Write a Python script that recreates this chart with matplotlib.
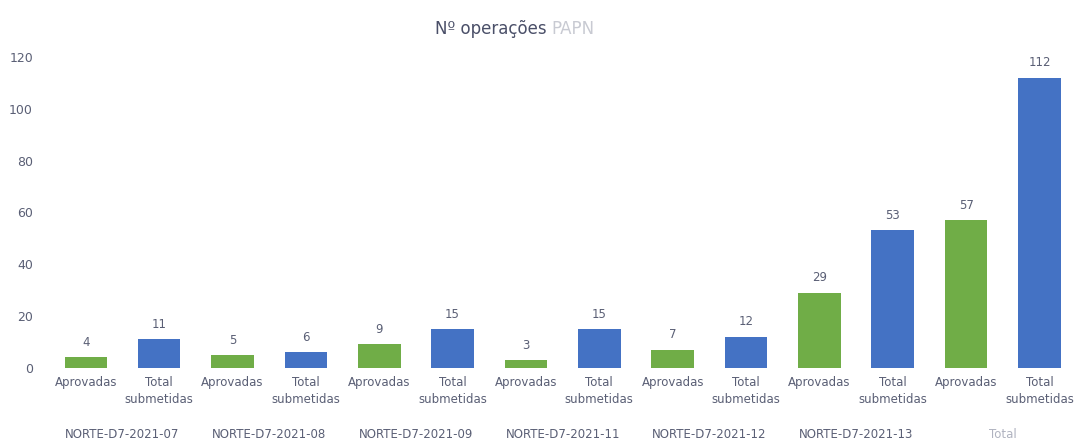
import matplotlib.pyplot as plt
import matplotlib.transforms as mtransforms
import numpy as np

# dados
grupos = ["NORTE-D7-2021-07", "NORTE-D7-2021-08", "NORTE-D7-2021-09",
          "NORTE-D7-2021-11", "NORTE-D7-2021-12", "NORTE-D7-2021-13", "Total"]
aprovadas = [4, 5, 9, 3, 7, 29, 57]
total_submetidas = [11, 6, 15, 15, 12, 53, 112]
rotulos = ["Aprovadas", "Total\nsubmetidas"]

verde = '#70AD47'
azul = '#4472C4'
cinza = '#5a5f75'

fig = plt.figure(figsize=(10.82, 4.41), dpi=100)
ax = fig.add_axes([0.042, 0.166, 0.956, 0.705])

n = len(grupos)
x_apr = np.arange(n) * 2
x_tot = x_apr + 1
largura = 0.58

b1 = ax.bar(x_apr, aprovadas, largura, color=verde)
b2 = ax.bar(x_tot, total_submetidas, largura, color=azul)

# valores por cima das barras
for barras in (b1, b2):
    for r in barras:
        h = r.get_height()
        ax.annotate(f'{h:.0f}', xy=(r.get_x() + r.get_width() / 2, h),
                    xytext=(0, 6), textcoords='offset points',
                    ha='center', va='bottom', fontsize=8.5, color=cinza)

ax.set_xlim(-0.55, 2 * n - 0.45)
ax.set_ylim(0, 120)
ax.set_yticks(np.arange(0, 121, 20))
ax.tick_params(axis='y', length=0, labelsize=9, labelcolor=cinza, pad=9)

ticks = np.sort(np.concatenate([x_apr, x_tot]))
ax.set_xticks(ticks)
ax.set_xticklabels(rotulos * n, fontsize=8.5, color=cinza, va='top', linespacing=1.4)
ax.tick_params(axis='x', length=0, pad=6)

# nomes dos grupos por baixo
trans = mtransforms.blended_transform_factory(ax.transData, ax.transAxes)
for i, g in enumerate(grupos):
    ax.text(x_apr[i] + 0.5, -0.215, g, transform=trans, ha='center', va='center',
            fontsize=8.5, color=cinza if g != "Total" else '#b0b3c0')

for s in ax.spines.values():
    s.set_visible(False)

# titulo
fig.text(0.505, 0.935, 'Nº operações', ha='right', va='center', fontsize=12, color='#4a4f68')
fig.text(0.51, 0.935, 'PAPN', ha='left', va='center', fontsize=12, color='#c8cad2')

plt.savefig('out.png', dpi=100)
